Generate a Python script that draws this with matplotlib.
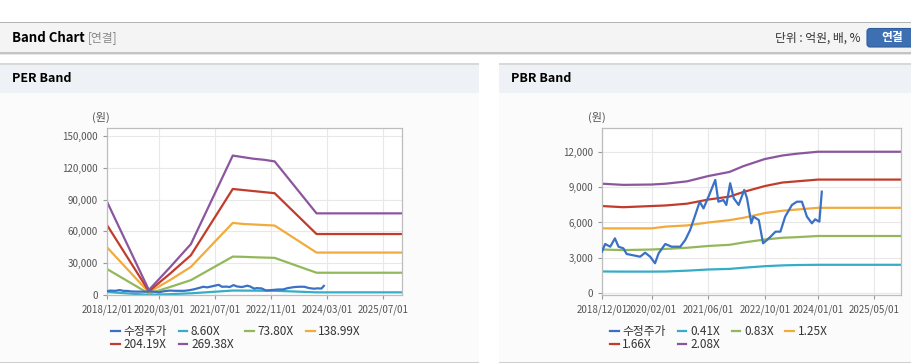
import matplotlib
matplotlib.use('Agg')
import matplotlib.pyplot as plt
from matplotlib.patches import Rectangle, FancyBboxPatch
from matplotlib.ticker import FuncFormatter
from matplotlib.transforms import Affine2D
import pandas as pd

plt.rcParams['font.family'] = ['Noto Sans CJK KR', 'DejaVu Sans']

# ---- data ----
price_dates = ['2018-12-01', '2018-12-28', '2019-02-10', '2019-03-22', '2019-04-22', '2019-06-03',
               '2019-07-01', '2019-08-15', '2019-10-25', '2019-12-07', '2020-01-19', '2020-03-01',
               '2020-04-01', '2020-05-28', '2020-07-22', '2020-10-04', '2020-11-16', '2020-12-28',
               '2021-02-10', '2021-03-20', '2021-04-22', '2021-06-04', '2021-08-01', '2021-08-28',
               '2021-10-10', '2021-11-04', '2021-12-07', '2022-01-07', '2022-02-18', '2022-04-07',
               '2022-05-01', '2022-06-07', '2022-06-25', '2022-08-10', '2022-09-16', '2022-10-19',
               '2022-11-19', '2023-01-01', '2023-02-12', '2023-03-25', '2023-05-22', '2023-07-04',
               '2023-08-16', '2023-09-28', '2023-11-10', '2023-12-07', '2024-01-13', '2024-02-03']
price = [3520, 4170, 3940, 4650, 3940, 3800,
         3320, 3230, 3090, 3430, 3090, 2530,
         3380, 4170, 3940, 3940, 4510, 5360,
         6640, 7770, 7200, 8200, 9620, 7770,
         7910, 7490, 9340, 8060, 7490, 8770,
         8060, 5930, 6500, 6210, 4230, 4510,
         4790, 5220, 5220, 6500, 7490, 7770,
         7770, 6500, 5930, 6270, 6070, 8620]

per_dates = ['2018-12-01', '2019-12-01', '2020-06-01', '2020-12-01', '2021-12-01', '2022-03-01',
             '2022-06-01', '2022-09-01', '2022-12-01', '2023-12-01', '2025-12-15']
per_labels = ['8.60X', '73.80X', '138.99X', '204.19X', '269.38X']
per_8_60 = [2800, 150, 800, 1600, 4200, 4150, 4100, 4050, 4000, 2500, 2500]
per_73_80 = [24500, 1300, 7500, 14000, 36200, 36000, 35600, 35300, 35000, 21000, 21000]
per_138_99 = [45000, 2500, 14000, 26500, 68000, 67000, 66500, 66000, 65500, 40000, 40000]
per_204_19 = [66000, 3500, 20000, 37500, 100000, 99000, 98000, 97000, 96000, 57500, 57500]
per_269_38 = [88000, 4700, 26000, 48000, 131500, 130000, 128500, 127500, 126000, 77000, 77000]

pbr_dates = ['2018-12-01', '2019-06-01', '2020-02-01', '2020-06-01', '2020-12-01', '2021-06-01',
             '2021-12-01', '2022-04-01', '2022-10-01', '2023-03-01', '2023-07-01', '2024-01-01',
             '2025-12-15']
pbr_labels = ['0.41X', '0.83X', '1.25X', '1.66X', '2.08X']
pbr_0_41 = [1830, 1820, 1820, 1830, 1900, 2000, 2050, 2150, 2280, 2350, 2380, 2400, 2400]
pbr_0_83 = [3700, 3650, 3700, 3750, 3850, 4000, 4100, 4300, 4550, 4700, 4750, 4850, 4850]
pbr_1_25 = [5500, 5500, 5500, 5650, 5750, 6000, 6200, 6400, 6800, 7000, 7100, 7250, 7250]
pbr_1_66 = [7400, 7300, 7400, 7450, 7600, 7950, 8200, 8600, 9100, 9400, 9500, 9650, 9650]
pbr_2_08 = [9300, 9200, 9230, 9300, 9500, 9950, 10300, 10800, 11400, 11700, 11850, 12020, 12020]

per_xticks = ['2018/12/01', '2020/03/01', '2021/07/01', '2022/11/01', '2024/03/01', '2025/07/01']
pbr_xticks = ['2018/12/01', '2020/02/01', '2021/06/01', '2022/10/01', '2024/01/01', '2025/05/01']

band_colors = ['#35adc6', '#93b85a', '#f1ab3c', '#c13c2b', '#8c569f']
price_color = '#3a71c6'

W, H = 912, 364
fig = plt.figure(figsize=(W / 100, H / 100), dpi=100)
fig.patch.set_facecolor('white')
T = Affine2D().scale(1 / W, -1 / H).translate(0, 1) + fig.transFigure


def rect(x, y, w, h, color):
    fig.patches.append(Rectangle((x, y), w, h, transform=T, facecolor=color,
                                 edgecolor='none', zorder=-10))


# header bar
rect(0, 22, W, 1.2, '#b4b4b4')
rect(0, 23, W, 29, '#f4f4f4')
rect(0, 52, W, 1.5, '#c4c4c4')
rect(0, 53.5, W, 1.5, '#e6e6e6')
fig.text(12, 38, 'Band Chart', transform=T, fontsize=9.5, weight='bold', va='center')
fig.text(88, 38, '[연결]', transform=T, fontsize=8.5, color='#888888', va='center')
fig.text(861, 38, '단위 : 억원, 배, %', transform=T, fontsize=8.5, color='#333333',
         va='center', ha='right')
fig.patches.append(FancyBboxPatch((867, 28.5), 60, 18.5, transform=T,
                                  boxstyle='round,pad=0,rounding_size=3',
                                  facecolor='#3d6fb2', edgecolor='#2f5d9c', lw=0.8, zorder=-5))
fig.text(892, 38, '연결', transform=T, fontsize=8.5, weight='bold', color='white',
         va='center', ha='center')

# panels
for x0, x1, title in [(0, 479, 'PER Band'), (499, W, 'PBR Band')]:
    rect(x0, 63, x1 - x0, 1.5, '#d8d8d8')
    rect(x0, 64.5, x1 - x0, 28, '#eef2f7')
    rect(x0, 92.5, x1 - x0, 269, '#fbfbfb')
    rect(x0, 361.5, x1 - x0, 1.5, '#cfcfcf')
    fig.text(x0 + 12, 79, title, transform=T, fontsize=9, weight='bold', va='center')


def make_axes(left, right, top, bottom):
    return fig.add_axes([left / W, 1 - bottom / H, (right - left) / W, (bottom - top) / H])


def style(ax, ymax, ymin, step, ticks, unit_x):
    ax.set_facecolor('white')
    for s in ax.spines.values():
        s.set_color('#bdbdbd')
        s.set_linewidth(0.9)
    ax.set_ylim(ymin, ymax)
    ax.set_yticks(range(0, int(ymax), step))
    ax.yaxis.set_major_formatter(FuncFormatter(lambda v, p: f'{int(v):,}'))
    ax.set_xlim(pd.Timestamp('2018-12-01'), pd.Timestamp('2025-12-15'))
    ax.set_xticks(pd.to_datetime(ticks))
    ax.set_xticklabels(ticks)
    ax.grid(True, color='#e8e8e8', lw=0.8)
    ax.set_axisbelow(True)
    ax.tick_params(labelsize=7, colors='#999999', labelcolor='#555555', length=3, width=0.8)
    fig.text(unit_x, 117, '(원)', transform=T, fontsize=8, color='#555555', va='center')


def legend(ax, handles, names, x):
    order = [0, 4, 1, 5, 2, 3]
    ax.legend([handles[i] for i in order], [names[i] for i in order],
              loc='upper left', bbox_to_anchor=(x / W, 1 - 319 / H),
              bbox_transform=fig.transFigure, ncol=4, frameon=False,
              handlelength=0.75, handletextpad=0.3, columnspacing=1.0,
              fontsize=8.5, labelspacing=0.05, borderpad=0, labelcolor='#333333')


# PER chart
ax1 = make_axes(107, 402, 128, 295)
style(ax1, 157500, 0, 30000, per_xticks, 92)
pd_per = pd.to_datetime(per_dates)
pd_price = pd.to_datetime(price_dates)
h = [ax1.plot(pd_price, price, color=price_color, lw=1.6, zorder=3)[0]]
for vals, c in zip([per_8_60, per_73_80, per_138_99, per_204_19, per_269_38], band_colors):
    h.append(ax1.plot(pd_per, vals, color=c, lw=1.6, zorder=2)[0])
legend(ax1, h, ['수정주가'] + per_labels, 105)

# PBR chart
ax2 = make_axes(602, 901, 128, 295)
style(ax2, 14040, -170, 3000, pbr_xticks, 588)
pd_pbr = pd.to_datetime(pbr_dates)
h = [ax2.plot(pd_price, price, color=price_color, lw=1.6, zorder=3)[0]]
for vals, c in zip([pbr_0_41, pbr_0_83, pbr_1_25, pbr_1_66, pbr_2_08], band_colors):
    h.append(ax2.plot(pd_pbr, vals, color=c, lw=1.6, zorder=2)[0])
legend(ax2, h, ['수정주가'] + pbr_labels, 604)

fig.savefig('out.png', dpi=100)
